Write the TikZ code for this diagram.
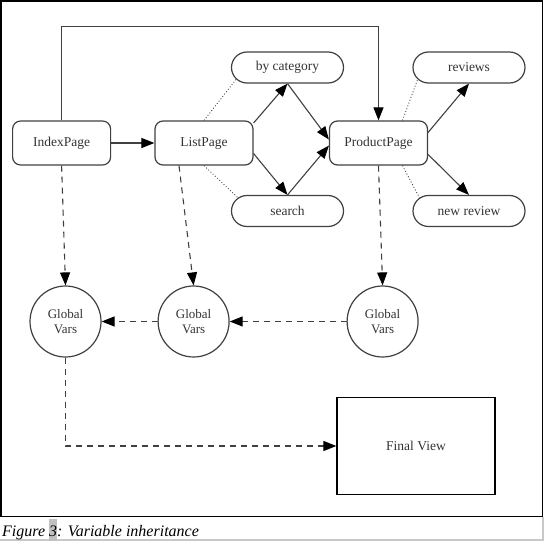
\documentclass[tikz,border=0pt]{standalone}
\usepackage{fontspec}
\setmainfont{Liberation Serif}
\usetikzlibrary{arrows.meta,shapes.misc,calc}
\definecolor{edgec}{HTML}{404040}
\definecolor{textc}{HTML}{333333}
\definecolor{capgray}{HTML}{C0C0C0}
\definecolor{capline}{HTML}{C8C8C8}
\begin{document}
\begin{tikzpicture}[x=1pt,y=-1pt,
  lab/.style={font=\fontsize{13.5}{15}\selectfont, text=textc},
  page/.style={lab, draw=edgec, line width=1.2pt, rounded corners=8pt, minimum width=98pt, minimum height=44pt, inner sep=0pt},
  pill/.style={lab, draw=edgec, line width=1.2pt, rounded rectangle, minimum width=112pt, minimum height=31pt, inner sep=0pt},
  gv/.style={circle, draw=edgec, line width=1.2pt, minimum size=71pt, inner sep=0pt, align=center, font=\fontsize{13}{15}\selectfont, text=textc},
  arr/.style={draw=edgec, line width=1.1pt, -{Triangle[length=13pt,width=10pt,color=black]}},
  dasharr/.style={arr, dash pattern=on 6pt off 5pt},
  dotl/.style={draw=edgec, line width=0.8pt, dash pattern=on 1pt off 2pt}
]
\useasboundingbox (0,0) rectangle (544,541);
% frame and caption strip
\draw[line width=1.6pt] (0.8,0.8) rectangle (542.4,516.5);
\draw[capline, line width=1.5pt] (543.2,517) -- (543.2,540.2) -- (0,540.2);
\node[anchor=base west, inner sep=0pt, font=\fontsize{16}{18}\selectfont\itshape] (cap) at (2,536)
  {Figure \setlength{\fboxsep}{0pt}\colorbox{capgray}{\rule[-4.5pt]{0pt}{22pt}3}: Variable inheritance};

% nodes
\node[page] (ip) at (61.6,143) {IndexPage};
\node[page] (lp) at (204,143) {ListPage};
\node[page] (pp) at (378.5,143) {ProductPage};
\node[pill] (bc) at (287.5,67.5) {by category};
\node[pill] (se) at (287.5,211) {search};
\node[pill] (rv) at (469,67.5) {reviews};
\node[pill] (nr) at (469,211) {new review};
\node[gv] (gv1) at (65.5,321.5) {Global\\Vars};
\node[gv] (gv2) at (193.6,321.5) {Global\\Vars};
\node[gv] (gv3) at (382.6,321.5) {Global\\Vars};
\node[lab, draw=black, line width=1.2pt, minimum width=158pt, minimum height=97pt] (fv) at (416,446) {Final View};
\coordinate (topc) at (0,26.7);

% solid edges
\draw[arr] (ip.north) -- (ip.north |- topc) -| (pp.north);
\draw[arr] (ip) -- (lp);
\draw[arr] (lp.22.6) -- (bc.south);
\draw[arr] (bc.south) -- (pp.176.5);
\draw[arr] (lp.-12.7) -- (se.north);
\draw[arr] (se.north) -- (pp.183.5);
\draw[arr] (pp.12.5) -- (rv.south);
\draw[arr] (pp.-13.6) -- (nr.north);

% dotted
\draw[dotl] (lp.north) -- (bc.193);
\draw[dotl] (lp.south) -- (se.165);
\draw[dotl] ([xshift=24pt]pp.north) -- (rv.193);
\draw[dotl] ([xshift=24pt]pp.south) -- (nr.165);

% dashed
\draw[dasharr] (ip.south) -- (gv1.north);
\draw[dasharr] ([xshift=-25pt]lp.south) -- (gv2.north);
\draw[dasharr] (pp.south) -- (gv3.north);
\draw[dasharr] (gv3.west) -- (gv2.east);
\draw[dasharr] (gv2.west) -- (gv1.east);
\draw[dasharr] (gv1.south) |- (fv.west);
\end{tikzpicture}
\end{document}
